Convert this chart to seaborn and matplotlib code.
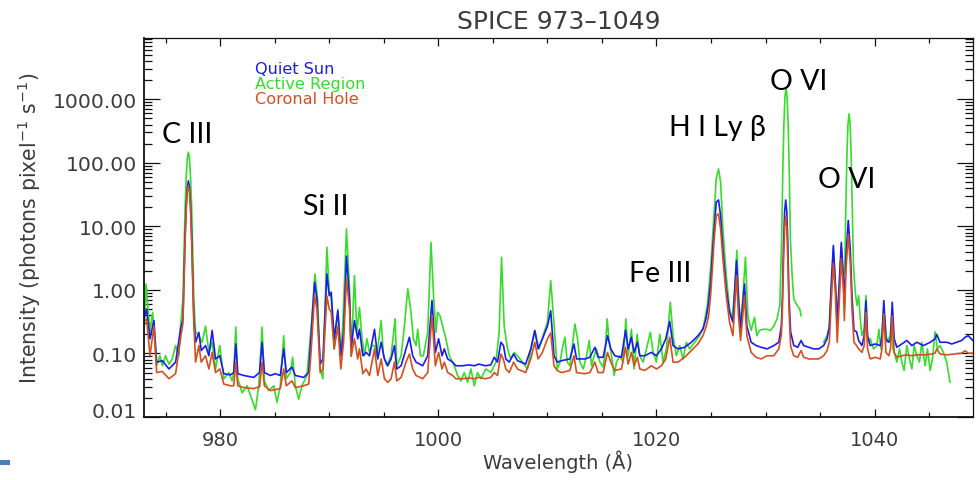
import numpy as np
import pandas as pd
import seaborn as sns
import matplotlib
matplotlib.use("Agg")
import matplotlib.pyplot as plt
from matplotlib.ticker import (FixedLocator, FormatStrFormatter, MultipleLocator,
                               LogLocator, NullFormatter)
from matplotlib.patches import Rectangle

# ---------------------------------------------------------------------------
# Spectra (photons pixel^-1 s^-1) sampled at the wavelengths below (Angstrom)
# Quiet Sun and Coronal Hole share one wavelength grid.
# ---------------------------------------------------------------------------
wl_qs_ch = [
    973.00, 973.24, 973.55, 973.91, 974.16, 974.68, 975.29, 975.90, 976.35, 976.57,
    976.67, 976.77, 976.87, 976.97, 977.07, 977.17, 977.27, 977.37, 977.47, 977.57,
    977.73, 978.03, 978.25, 978.64, 978.95, 979.25, 979.56, 979.95, 980.32, 980.93,
    981.23, 981.42, 981.60, 982.15, 983.06, 983.60, 983.83, 984.04, 984.59, 985.05,
    985.50, 985.81, 986.05, 986.57, 986.88, 987.64, 988.10, 988.34, 988.64, 988.86,
    989.16, 989.41, 989.77, 989.99, 990.17, 990.44, 990.78, 991.05, 991.30, 991.57,
    991.85, 992.00, 992.30, 992.60, 992.76, 993.07, 993.37, 993.68, 994.14, 994.44,
    994.75, 995.05, 995.36, 995.66, 995.97, 996.18, 996.58, 997.03, 997.34, 997.64,
    997.95, 998.56, 999.02, 999.41, 999.72, 1000.02, 1000.33, 1000.54, 1000.85, 1001.30,
    1001.60, 1002.20, 1002.80, 1003.30, 1003.70, 1004.30, 1004.80, 1005.12, 1005.42, 1005.73,
    1005.97, 1006.18, 1006.49, 1006.90, 1007.25, 1008.00, 1008.47, 1008.84, 1009.14, 1009.54,
    1010.00, 1010.30, 1010.60, 1010.90, 1011.30, 1012.06, 1012.43, 1012.67, 1013.43, 1013.89,
    1014.35, 1014.65, 1015.11, 1015.51, 1015.81, 1016.18, 1016.79, 1017.16, 1017.40, 1017.70,
    1017.95, 1018.25, 1018.47, 1018.92, 1019.53, 1020.00, 1020.45, 1020.85, 1021.21, 1021.52,
    1021.97, 1022.58, 1023.20, 1023.80, 1024.26, 1024.57, 1024.78, 1024.96, 1025.12, 1025.27,
    1025.48, 1025.69, 1025.88, 1026.09, 1026.40, 1026.70, 1027.01, 1027.16, 1027.34, 1027.52,
    1027.71, 1027.89, 1028.07, 1028.29, 1028.68, 1029.14, 1029.60, 1030.15, 1030.76, 1031.22,
    1031.45, 1031.55, 1031.65, 1031.75, 1031.85, 1031.95, 1032.05, 1032.15, 1032.30, 1032.59,
    1032.95, 1033.26, 1033.50, 1033.96, 1034.42, 1034.88, 1035.33, 1035.64, 1035.85, 1036.04,
    1036.22, 1036.40, 1036.58, 1036.77, 1036.95, 1037.14, 1037.23, 1037.38, 1037.59, 1037.77,
    1037.93, 1038.11, 1038.35, 1038.54, 1038.84, 1039.05, 1039.21, 1039.36, 1039.60, 1040.06,
    1040.52, 1040.68, 1040.85, 1041.04, 1041.31, 1041.46, 1041.62, 1041.80, 1042.04, 1042.50,
    1042.96, 1043.42, 1043.87, 1044.48, 1045.10, 1045.55, 1045.70, 1046.00, 1046.62, 1047.08,
    1047.53, 1047.99, 1048.30, 1048.60, 1049.00,
]

quiet_sun = [
    0.35, 0.50, 0.17, 0.33, 0.073, 0.077, 0.057, 0.073, 0.24, 0.35,
    1.6, 7.0, 21, 41, 52, 41, 21, 7.0, 1.6, 0.35,
    0.15, 0.215, 0.111, 0.133, 0.092, 0.23, 0.082, 0.092, 0.048, 0.046,
    0.050, 0.141, 0.048, 0.045, 0.042, 0.050, 0.15, 0.050, 0.045, 0.048,
    0.045, 0.118, 0.050, 0.061, 0.045, 0.042, 0.050, 0.215, 1.32, 0.72,
    0.068, 0.082, 1.79, 0.81, 0.92, 0.17, 0.47, 0.092, 0.215, 3.4,
    0.72, 0.12, 0.33, 0.17, 0.24, 0.092, 0.104, 0.092, 0.24, 0.082,
    0.15, 0.082, 0.064, 0.082, 0.133, 0.057, 0.064, 0.118, 0.18, 0.092,
    0.073, 0.064, 0.092, 0.68, 0.104, 0.17, 0.092, 0.118, 0.082, 0.073,
    0.064, 0.064, 0.066, 0.064, 0.068, 0.064, 0.066, 0.087, 0.073, 0.15,
    0.133, 0.082, 0.073, 0.098, 0.077, 0.068, 0.118, 0.23, 0.118, 0.17,
    0.27, 0.47, 0.092, 0.073, 0.077, 0.082, 0.141, 0.082, 0.082, 0.087,
    0.125, 0.087, 0.087, 0.19, 0.118, 0.092, 0.087, 0.23, 0.118, 0.18,
    0.104, 0.15, 0.092, 0.092, 0.104, 0.092, 0.118, 0.17, 0.32, 0.133,
    0.118, 0.125, 0.15, 0.19, 0.24, 0.37, 0.64, 1.32, 3.5, 8.1,
    24, 26, 14.8, 4.4, 1.04, 0.445, 0.31, 0.92, 2.9, 0.72,
    0.23, 0.57, 1.24, 0.27, 0.15, 0.133, 0.125, 0.118, 0.133, 0.15,
    0.27, 0.77, 5.0, 17, 26, 17, 5.0, 0.77, 0.22, 0.133,
    0.125, 0.16, 0.133, 0.125, 0.118, 0.118, 0.133, 0.17, 0.27, 1.32,
    5.0, 1.32, 0.31, 1.32, 5.6, 1.49, 0.57, 3.5, 12.4, 4.4,
    0.81, 0.23, 0.22, 0.16, 0.133, 0.19, 0.68, 0.19, 0.133, 0.141,
    0.133, 0.18, 0.68, 0.17, 0.15, 0.17, 0.64, 0.17, 0.125, 0.141,
    0.16, 0.133, 0.15, 0.133, 0.15, 0.17, 0.20, 0.15, 0.15, 0.141,
    0.15, 0.16, 0.18, 0.19, 0.16,
]

coronal_hole = [
    0.31, 0.35, 0.092, 0.27, 0.050, 0.052, 0.040, 0.048, 0.17, 0.30,
    1.35, 5.9, 18, 35, 44, 35, 18, 5.9, 1.35, 0.30,
    0.073, 0.133, 0.073, 0.092, 0.057, 0.104, 0.050, 0.057, 0.033, 0.031,
    0.031, 0.073, 0.031, 0.029, 0.028, 0.030, 0.073, 0.031, 0.026, 0.027,
    0.028, 0.057, 0.031, 0.037, 0.029, 0.031, 0.033, 0.118, 0.81, 0.50,
    0.050, 0.057, 0.81, 0.50, 0.445, 0.118, 0.27, 0.057, 0.15, 1.5,
    0.50, 0.090, 0.17, 0.082, 0.118, 0.048, 0.057, 0.045, 0.118, 0.045,
    0.082, 0.040, 0.035, 0.040, 0.073, 0.037, 0.042, 0.073, 0.098, 0.057,
    0.045, 0.040, 0.050, 0.40, 0.064, 0.104, 0.057, 0.073, 0.050, 0.045,
    0.040, 0.040, 0.041, 0.040, 0.042, 0.040, 0.042, 0.050, 0.045, 0.098,
    0.080, 0.057, 0.050, 0.073, 0.057, 0.050, 0.082, 0.15, 0.082, 0.104,
    0.17, 0.21, 0.064, 0.054, 0.050, 0.054, 0.092, 0.050, 0.048, 0.050,
    0.073, 0.050, 0.050, 0.104, 0.073, 0.054, 0.057, 0.125, 0.068, 0.104,
    0.064, 0.087, 0.057, 0.054, 0.064, 0.057, 0.064, 0.082, 0.18, 0.073,
    0.073, 0.087, 0.111, 0.141, 0.19, 0.27, 0.39, 0.81, 2.1, 5.6,
    14.8, 15.7, 9.1, 3.1, 0.81, 0.31, 0.19, 0.50, 1.68, 0.39,
    0.16, 0.35, 0.81, 0.19, 0.104, 0.087, 0.082, 0.092, 0.092, 0.118,
    0.20, 0.50, 2.8, 9.6, 14.5, 9.6, 2.8, 0.50, 0.13, 0.092,
    0.087, 0.111, 0.087, 0.082, 0.082, 0.082, 0.092, 0.111, 0.15, 0.72,
    2.6, 0.92, 0.15, 0.72, 3.1, 1.04, 0.33, 2.1, 7.5, 2.7,
    0.50, 0.15, 0.133, 0.118, 0.104, 0.133, 0.445, 0.118, 0.082, 0.087,
    0.082, 0.118, 0.42, 0.104, 0.092, 0.118, 0.39, 0.104, 0.087, 0.092,
    0.095, 0.092, 0.095, 0.095, 0.097, 0.101, 0.118, 0.098, 0.095, 0.097,
    0.099, 0.101, 0.11, 0.101, 0.101,
]

# Active Region has its own grid; NaN marks the stretch with no data.
wl_ar = [
    973.00, 973.18, 973.37, 973.55, 973.79, 973.98, 974.16, 974.46, 974.68, 974.98,
    975.29, 975.59, 975.90, 976.20, 976.35, 976.57, 976.67, 976.77, 976.87, 976.97,
    977.07, 977.17, 977.27, 977.37, 977.47, 977.57, 977.73, 978.03, 978.34, 978.64,
    978.95, 979.25, 979.56, 979.95, 980.32, 980.78, 981.08, 981.23, 981.42, 981.60,
    982.00, 982.45, 982.76, 983.22, 983.52, 983.83, 984.04, 984.44, 984.90, 985.20,
    985.50, 985.81, 986.05, 986.42, 986.63, 986.88, 987.18, 987.49, 987.94, 988.34,
    988.68, 988.92, 989.16, 989.41, 989.77, 989.99, 990.17, 990.44, 990.78, 991.05,
    991.24, 991.57, 991.85, 992.00, 992.30, 992.52, 992.76, 993.00, 993.22, 993.44,
    993.68, 993.92, 994.14, 994.35, 994.75, 994.96, 995.27, 995.66, 996.03, 996.18,
    996.58, 996.88, 997.19, 997.49, 997.70, 997.95, 998.10, 998.35, 998.62, 999.02,
    999.32, 999.57, 999.78, 999.93, 1000.15, 1000.39, 1000.69, 1001.00, 1001.46, 1001.76,
    1002.07, 1002.37, 1002.68, 1002.98, 1003.29, 1003.59, 1003.90, 1004.35, 1004.81, 1005.27,
    1005.57, 1005.79, 1006.03, 1006.34, 1006.64, 1006.95, 1007.25, 1007.71, 1008.17, 1008.56,
    1008.84, 1009.23, 1009.69, 1010.00, 1010.30, 1010.55, 1010.90, 1011.15, 1011.36, 1011.60,
    1011.82, 1012.06, 1012.28, 1012.52, 1012.76, 1012.98, 1013.28, 1013.59, 1013.83, 1014.04,
    1014.29, 1014.50, 1014.81, 1015.11, 1015.26, 1015.48, 1015.63, 1015.87, 1016.12, 1016.33,
    1016.64, 1016.94, 1017.19, 1017.40, 1017.70, 1017.95, 1018.22, 1018.47, 1018.77, 1019.08,
    1019.44, 1019.69, 1019.99, 1020.30, 1020.60, 1020.91, 1021.27, 1021.52, 1021.82, 1022.13,
    1022.43, 1022.74, 1023.04, 1023.50, 1023.96, 1024.32, 1024.66, 1024.96, 1025.27, 1025.48,
    1025.69, 1025.88, 1026.09, 1026.40, 1026.70, 1026.94, 1027.16, 1027.37, 1027.55, 1027.77,
    1027.95, 1028.16, 1028.38, 1028.68, 1028.99, 1029.20, 1029.44, 1029.75, 1030.15, 1030.45,
    1030.76, 1031.06, 1031.31, 1031.48, 1031.58, 1031.68, 1031.78, 1031.88, 1031.98, 1032.08,
    1032.18, 1032.28, 1032.44, 1032.59, 1032.90, 1033.14, 1033.26, 1034.30, 1035.33, 1035.64,
    1035.85, 1036.04, 1036.22, 1036.40, 1036.58, 1036.77, 1036.95, 1037.14, 1037.26, 1037.36,
    1037.46, 1037.56, 1037.66, 1037.76, 1037.86, 1037.96, 1038.06, 1038.23, 1038.38, 1038.54,
    1038.69, 1038.84, 1039.05, 1039.21, 1039.36, 1039.60, 1039.91, 1040.21, 1040.40, 1040.58,
    1040.85, 1041.13, 1041.43, 1041.62, 1041.68, 1041.89, 1042.04, 1042.29, 1042.50, 1042.71,
    1042.96, 1043.20, 1043.42, 1043.63, 1043.87, 1044.12, 1044.33, 1044.64, 1044.85, 1045.10,
    1045.31, 1045.55, 1045.77, 1046.00, 1046.31, 1046.62, 1046.77, 1046.92,
]

active_region = [
    0.215, 1.24, 0.50, 0.215, 0.445, 0.17, 0.064, 0.092, 0.064, 0.092,
    0.068, 0.082, 0.133, 0.092, 0.27, 0.7, 4.2, 20, 60, 117,
    147, 117, 60, 20, 4.2, 0.7, 0.215, 0.19, 0.15, 0.27,
    0.104, 0.15, 0.057, 0.133, 0.040, 0.050, 0.037, 0.050, 0.26, 0.040,
    0.024, 0.031, 0.022, 0.013, 0.031, 0.26, 0.037, 0.026, 0.031, 0.017,
    0.031, 0.19, 0.040, 0.050, 0.087, 0.031, 0.019, 0.031, 0.045, 0.27,
    1.79, 0.72, 0.057, 0.040, 4.7, 0.92, 0.72, 0.118, 0.50, 0.092,
    0.31, 9.1, 1.04, 0.092, 1.68, 0.215, 0.53, 0.17, 0.092, 0.17,
    0.104, 0.133, 0.133, 0.092, 0.33, 0.092, 0.064, 0.092, 0.35, 0.064,
    0.092, 0.27, 1.04, 0.445, 0.17, 0.133, 0.24, 0.092, 0.092, 0.215,
    5.6, 0.72, 0.215, 0.445, 0.39, 0.27, 0.17, 0.092, 0.064, 0.045,
    0.037, 0.050, 0.035, 0.057, 0.031, 0.050, 0.040, 0.057, 0.050, 0.073,
    0.215, 3.27, 0.27, 0.118, 0.082, 0.104, 0.092, 0.073, 0.057, 0.133,
    0.23, 0.118, 0.215, 0.31, 1.4, 0.39, 0.057, 0.073, 0.118, 0.18,
    0.073, 0.064, 0.133, 0.29, 0.17, 0.073, 0.057, 0.092, 0.16, 0.064,
    0.092, 0.118, 0.073, 0.061, 0.092, 0.35, 0.17, 0.092, 0.045, 0.073,
    0.092, 0.073, 0.35, 0.092, 0.24, 0.057, 0.20, 0.092, 0.073, 0.118,
    0.215, 0.104, 0.073, 0.20, 0.073, 0.118, 0.64, 0.19, 0.092, 0.133,
    0.082, 0.15, 0.118, 0.15, 0.19, 0.27, 0.57, 2.1, 14.8, 56,
    80, 50, 9.1, 1.68, 0.50, 0.35, 0.92, 4.2, 0.64, 0.27,
    0.92, 3.27, 0.39, 0.23, 0.37, 0.19, 0.23, 0.24, 0.24, 0.23,
    0.27, 0.35, 0.57, 6.4, 66, 380, 1072, 1517, 1072, 380,
    66, 6.4, 1.68, 0.72, 0.57, 0.50, 0.39, np.nan, 0.15, 0.19,
    0.24, 1.2, 4.5, 1.2, 0.35, 1.2, 5.0, 1.8, 1.8, 17.6,
    124, 400, 592, 400, 124, 17.6, 2.5, 0.92, 0.57, 0.81,
    0.35, 0.19, 0.24, 0.81, 0.15, 0.17, 0.118, 0.133, 0.24, 0.118,
    0.55, 0.15, 0.19, 0.50, 0.118, 0.092, 0.073, 0.118, 0.073, 0.054,
    0.133, 0.082, 0.057, 0.133, 0.092, 0.073, 0.15, 0.064, 0.118, 0.054,
    0.082, 0.22, 0.118, 0.133, 0.104, 0.073, 0.050, 0.035,
]

region_names = ["Quiet Sun", "Active Region", "Coronal Hole"]
region_colors = ["#1c1cf2", "#38dc2a", "#d4501e"]

y_ticks = [0.01, 0.1, 1, 10, 100, 1000]

line_labels = ["C III", "Si II", "H I Ly β", "O VI", "O VI", "Fe III"]
line_label_wl = [976.93, 989.65, 1025.56, 1033.02, 1037.41, 1020.30]
line_label_int = [212, 15.7, 269, 1430, 41.4, 1.40]

# ---------------------------------------------------------------------------
sns.set_theme(style="white")
plt.rcParams["font.family"] = ["DejaVu Sans"]

W, H = 976, 481
fig = plt.figure(figsize=(W / 100, H / 100), dpi=100)
ax = fig.add_axes([144 / W, 1 - 418 / H, (972.7 - 144) / W, (418 - 39) / H])

qs_df = pd.DataFrame({"wavelength": wl_qs_ch, "intensity": quiet_sun})
ch_df = pd.DataFrame({"wavelength": wl_qs_ch, "intensity": coronal_hole})
ar_df = pd.DataFrame({"wavelength": wl_ar, "intensity": active_region})
ar_df["segment"] = ar_df["intensity"].isna().cumsum()
ar_df = ar_df.dropna()

c_qs, c_ar, c_ch = region_colors
lw = 1.2
sns.lineplot(data=ar_df, x="wavelength", y="intensity", units="segment",
             estimator=None, sort=False, color=c_ar, lw=lw, ax=ax)
sns.lineplot(data=qs_df, x="wavelength", y="intensity", estimator=None,
             sort=False, color=c_qs, lw=lw, ax=ax)
sns.lineplot(data=ch_df, x="wavelength", y="intensity", estimator=None,
             sort=False, color=c_ch, lw=lw, ax=ax)

ax.set_yscale("log")
ax.set_xlim(973, 1049)
ax.set_ylim(0.01, 9200)

grey = "#3c3c3c"
ax.xaxis.set_major_locator(MultipleLocator(20))
ax.xaxis.set_minor_locator(MultipleLocator(5))
ax.yaxis.set_major_locator(FixedLocator(y_ticks))
ax.yaxis.set_major_formatter(FormatStrFormatter("%.2f"))
ax.yaxis.set_minor_locator(LogLocator(base=10, subs=np.arange(2, 10)))
ax.yaxis.set_minor_formatter(NullFormatter())

ax.tick_params(which="both", direction="in", top=True, bottom=True,
               left=True, right=True, color="#111111", width=0.9,
               labelcolor=grey)
ax.tick_params(axis="x", which="major", length=6, pad=9, labelsize=14)
ax.tick_params(axis="x", which="minor", length=3.8)
ax.tick_params(axis="y", which="major", length=11.5, pad=5, labelsize=14.6)
ax.tick_params(axis="y", which="minor", length=5.8)

for side, sp in ax.spines.items():
    sp.set_color("#111111")
    sp.set_linewidth(1.3 if side in ("left", "bottom") else 0.9)

ax.set_title("SPICE 973–1049", fontsize=18, color=grey, pad=7)
ax.set_xlabel("Wavelength (Å)", fontsize=14, color=grey, va="center")
ax.xaxis.set_label_coords(0.5, -0.115)
ax.set_ylabel("Intensity (photons pixel$^{-1}$ s$^{-1}$)", fontsize=14.8,
              color=grey, va="center")
ax.yaxis.set_label_coords(-0.139, 0.5)

# lowest y label sits just above the axis corner
fig.canvas.draw()
ax.yaxis.get_major_ticks()[0].label1.set_verticalalignment("baseline")

# region key
for k, (name, col) in enumerate(zip(region_names, region_colors)):
    ax.text(0.134, 0.920 - 0.0395 * k, name, transform=ax.transAxes,
            color=col, fontsize=11.6, ha="left", va="center")

# spectral line identifications
for lab, x, y in zip(line_labels, line_label_wl, line_label_int):
    ax.text(x, y, lab, fontsize=20.5, color="black", ha="center",
            va="baseline", family=["Lato", "DejaVu Sans"])

fig.add_artist(Rectangle((0, 1 - 466 / H), 10 / W, 5 / H,
                         transform=fig.transFigure, color="#4a7ebb", lw=0))

fig.savefig("out.png", dpi=100)
